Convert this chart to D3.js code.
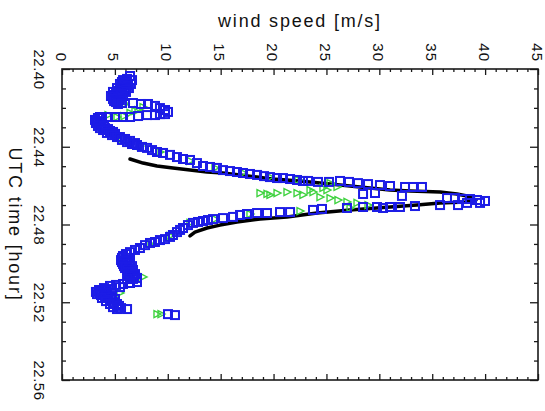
<!DOCTYPE html>
<html>
<head>
<meta charset="utf-8">
<script src="https://cdn.jsdelivr.net/npm/d3@7"></script>
<style>
  html, body { margin: 0; padding: 0; background: #fff; }
  svg { display: block; font-family: "Liberation Sans", Arial, Helvetica, sans-serif; }
</style>
</head>
<body>
<svg id="chart" width="545" height="411"></svg>
<script>
// Axis ticks
const speedTicks = [0, 5, 10, 15, 20, 25, 30, 35, 40, 45];
const timeTicks = [22.40, 22.44, 22.48, 22.52, 22.56];

// Measured wind speed, blue squares: [UTC time (hour), speed (m/s)]
const measured = [
  [22.4036, 6.43], [22.4051, 6.15], [22.4057, 5.77], [22.4057, 6.62], [22.4062, 6.15],
  [22.4067, 5.67], [22.4072, 6.05], [22.4077, 5.48], [22.4077, 6.52], [22.4082, 5.86],
  [22.4087, 6.24], [22.4093, 5.67], [22.4098, 5.20], [22.4098, 6.33], [22.4103, 5.48],
  [22.4108, 5.96], [22.4113, 5.29], [22.4118, 4.82], [22.4118, 6.05], [22.4123, 5.11],
  [22.4128, 5.58], [22.4134, 5.01], [22.4139, 4.63], [22.4139, 5.77], [22.4144, 4.92],
  [22.4149, 5.29], [22.4154, 4.82], [22.4160, 5.48], [22.4165, 4.92], [22.4170, 5.11],
  [22.4180, 5.29],
  [22.4175, 5.67], [22.4175, 6.71], [22.4180, 7.47], [22.4180, 8.13], [22.4190, 8.79],
  [22.4201, 9.26], [22.4211, 9.74], [22.4221, 10.02], [22.4232, 9.74], [22.4232, 9.26],
  [22.4237, 8.79], [22.4237, 8.04], [22.4242, 7.19], [22.4247, 6.43], [22.4247, 5.77],
  [22.4247, 5.01], [22.4247, 4.35], [22.4247, 3.59], [22.4252, 3.78], [22.4252, 3.40],
  [22.4262, 3.12], [22.4268, 3.31], [22.4273, 3.59], [22.4278, 3.21], [22.4288, 3.69],
  [22.4293, 3.40], [22.4293, 3.97], [22.4304, 3.59], [22.4304, 4.07], [22.4309, 4.35],
  [22.4314, 3.88], [22.4319, 4.54], [22.4324, 4.82], [22.4329, 4.25], [22.4334, 5.01],
  [22.4340, 4.73], [22.4350, 5.20], [22.4350, 5.48], [22.4360, 5.96], [22.4365, 5.67],
  [22.4370, 6.43], [22.4376, 6.15], [22.4381, 6.90], [22.4386, 6.62], [22.4391, 7.09],
  [22.4401, 7.56], [22.4406, 8.04], [22.4417, 8.51], [22.4427, 8.98], [22.4432, 9.55],
  [22.4442, 10.21], [22.4453, 10.87], [22.4463, 11.44], [22.4468, 12.10], [22.4484, 12.76],
  [22.4499, 13.33], [22.4504, 13.99], [22.4509, 14.65], [22.4520, 15.22], [22.4525, 15.88],
  [22.4530, 16.54], [22.4535, 17.11], [22.4540, 17.77], [22.4545, 18.44], [22.4551, 19.10],
  [22.4556, 19.66], [22.4561, 20.33], [22.4561, 20.89], [22.4566, 21.56], [22.4571, 22.22],
  [22.4576, 22.78], [22.4576, 23.26], [22.4581, 24.20], [22.4581, 25.24], [22.4576, 26.28],
  [22.4581, 27.13], [22.4587, 27.98], [22.4592, 28.93], [22.4597, 30.06], [22.4602, 31.01],
  [22.4607, 32.43], [22.4607, 33.18], [22.4607, 34.03],
  [22.4643, 28.46], [22.4638, 29.59], [22.4653, 32.14],
  [22.4664, 36.40], [22.4664, 37.15], [22.4669, 37.82], [22.4669, 38.57], [22.4674, 39.23],
  [22.4679, 39.99], [22.4689, 39.52], [22.4689, 38.29], [22.4700, 37.44], [22.4700, 35.74],
  [22.4705, 33.37], [22.4710, 31.95], [22.4710, 31.01], [22.4715, 30.35], [22.4710, 29.78],
  [22.4710, 28.46], [22.4715, 26.94], [22.4720, 24.58], [22.4725, 23.73], [22.4736, 21.56],
  [22.4736, 20.61], [22.4741, 19.38], [22.4741, 18.44], [22.4746, 17.49], [22.4751, 16.83],
  [22.4761, 16.17], [22.4767, 15.22], [22.4772, 14.28], [22.4777, 13.80], [22.4782, 13.33],
  [22.4787, 12.86], [22.4792, 12.38], [22.4803, 11.91], [22.4818, 11.44], [22.4828, 11.16],
  [22.4839, 10.87], [22.4854, 10.49], [22.4864, 10.21], [22.4875, 9.74], [22.4880, 9.26],
  [22.4890, 8.79], [22.4895, 8.32], [22.4906, 7.85], [22.4921, 7.37], [22.4931, 6.90],
  [22.4942, 6.43], [22.4952, 6.05], [22.4962, 5.77], [22.4972, 5.67], [22.4972, 6.24],
  [22.4983, 5.58], [22.4983, 6.05], [22.4993, 5.67], [22.4993, 6.43], [22.5003, 5.77],
  [22.5003, 6.15], [22.5014, 5.86], [22.5014, 6.62], [22.5024, 5.96], [22.5024, 6.33],
  [22.5034, 6.15], [22.5034, 6.71], [22.5044, 6.24], [22.5044, 6.52], [22.5055, 6.33],
  [22.5055, 6.90], [22.5065, 6.43], [22.5065, 6.81], [22.5075, 7.09], [22.5080, 6.71],
  [22.5080, 6.15], [22.5096, 7.09], [22.5101, 6.43], [22.5106, 5.77], [22.5111, 5.11],
  [22.5116, 4.54], [22.5122, 5.48], [22.5127, 3.97], [22.5132, 4.73], [22.5137, 3.50],
  [22.5137, 3.88], [22.5142, 4.16], [22.5147, 3.21], [22.5152, 3.59], [22.5152, 4.25],
  [22.5158, 3.31], [22.5163, 3.69], [22.5168, 4.07], [22.5168, 4.73], [22.5178, 4.35],
  [22.5178, 3.78], [22.5183, 5.01], [22.5188, 4.63], [22.5194, 4.16], [22.5199, 4.92],
  [22.5209, 5.20], [22.5209, 4.54], [22.5219, 5.39], [22.5225, 4.82], [22.5230, 5.58],
  [22.5235, 6.15], [22.5235, 5.20],
  [22.5261, 10.02], [22.5266, 10.68]
];

// Second measurement, green triangles: [UTC time (hour), speed (m/s)]
const secondary = [
  [22.4180, 5.96], [22.4196, 7.66], [22.4211, 7.19], [22.4216, 6.90], [22.4226, 6.43],
  [22.4237, 4.35], [22.4242, 5.86], [22.4247, 5.20],
  [22.4360, 5.67], [22.4396, 7.37], [22.4427, 9.26], [22.4473, 12.10], [22.4509, 14.46],
  [22.4535, 17.11], [22.4556, 19.66], [22.4571, 22.31], [22.4587, 25.34], [22.4607, 26.00],
  [22.4612, 24.67], [22.4623, 25.05], [22.4623, 23.45],
  [22.4638, 18.72], [22.4643, 19.38], [22.4648, 19.66], [22.4638, 20.33], [22.4633, 21.27],
  [22.4638, 22.22], [22.4648, 22.78], [22.4633, 23.73], [22.4659, 24.39], [22.4664, 25.34],
  [22.4674, 26.09], [22.4684, 26.94], [22.4689, 27.89], [22.4700, 28.93],
  [22.4715, 27.23], [22.4731, 22.50], [22.4746, 17.77], [22.4772, 14.46], [22.4792, 12.10],
  [22.4859, 10.21], [22.4900, 8.32], [22.4962, 5.96], [22.5024, 6.24], [22.5070, 7.66],
  [22.5086, 6.43], [22.5152, 5.48], [22.5214, 4.73],
  [22.5261, 8.98], [22.5261, 9.36]
];

// Model wind speed, black line: [UTC time (hour), speed (m/s)]
const model = [
  [22.4463, 6.43], [22.4484, 7.66], [22.4499, 8.98], [22.4509, 10.49], [22.4520, 12.10],
  [22.4530, 13.71], [22.4535, 15.22], [22.4545, 16.83], [22.4556, 18.44], [22.4566, 19.85],
  [22.4571, 21.27], [22.4581, 23.45], [22.4592, 25.34], [22.4602, 27.23], [22.4612, 29.12],
  [22.4623, 31.01], [22.4628, 32.90], [22.4633, 35.74], [22.4643, 37.34], [22.4653, 38.29],
  [22.4669, 38.95], [22.4674, 39.14], [22.4679, 38.76], [22.4684, 38.10], [22.4689, 35.74],
  [22.4700, 33.56], [22.4710, 31.01], [22.4725, 27.23], [22.4741, 24.11], [22.4761, 21.27],
  [22.4772, 18.72], [22.4787, 16.54], [22.4803, 14.94], [22.4818, 13.71], [22.4839, 12.57],
  [22.4859, 12.10]
];

const svg = d3.select("#chart");
const plot = { left: 62, right: 538, top: 69, bottom: 380 };

// Wind speed runs left to right along the top; time runs downward.
const x = d3.scaleLinear().domain([0, 45]).range([plot.left, plot.right]);
const y = d3.scaleLinear().domain([22.40, 22.56]).range([plot.top, plot.bottom]);

const speedMinor = d3.range(0, 46, 1).filter(v => v % 5 !== 0);
const timeMinor = d3.range(22.40, 22.5601, 0.01).map(v => +v.toFixed(2))
  .filter(v => !timeTicks.some(t => Math.abs(t - v) < 1e-6));

const axisColor = "#1a1a1a";
const labelFont = 15;

function styleAxis(g) {
  g.select(".domain").remove();
  g.selectAll(".tick line").attr("stroke", axisColor).attr("stroke-width", 1.3);
}

// Top speed axis with labels rotated to read top-to-bottom
const topMajor = svg.append("g").attr("transform", `translate(0,${plot.top})`)
  .call(d3.axisTop(x).tickValues(speedTicks).tickSizeInner(-6).tickSizeOuter(0).tickFormat(d3.format("d")))
  .call(styleAxis);
topMajor.selectAll(".tick text")
  .attr("x", 0).attr("y", 0).attr("dy", null)
  .attr("text-anchor", "end")
  .attr("transform", "translate(-7,-7) rotate(90)")
  .attr("fill", "#111")
  .style("font-size", labelFont + "px")
  .style("letter-spacing", "1px");
svg.append("g").attr("transform", `translate(0,${plot.top})`)
  .call(d3.axisTop(x).tickValues(speedMinor).tickSizeInner(-3).tickSizeOuter(0).tickFormat(""))
  .call(styleAxis);

// Bottom mirror ticks
svg.append("g").attr("transform", `translate(0,${plot.bottom})`)
  .call(d3.axisBottom(x).tickValues(speedTicks).tickSizeInner(-6).tickSizeOuter(0).tickFormat(""))
  .call(styleAxis);
svg.append("g").attr("transform", `translate(0,${plot.bottom})`)
  .call(d3.axisBottom(x).tickValues(speedMinor).tickSizeInner(-3).tickSizeOuter(0).tickFormat(""))
  .call(styleAxis);

// Left time axis
const leftMajor = svg.append("g").attr("transform", `translate(${plot.left},0)`)
  .call(d3.axisLeft(y).tickValues(timeTicks).tickSizeInner(-8).tickSizeOuter(0).tickFormat(d3.format(".2f")))
  .call(styleAxis);
leftMajor.selectAll(".tick text")
  .attr("x", 0).attr("y", 0).attr("dy", null)
  .attr("text-anchor", "middle")
  .attr("transform", "translate(-28,0) rotate(90)")
  .attr("fill", "#111")
  .style("font-size", labelFont + "px")
  .style("letter-spacing", "0.5px");
svg.append("g").attr("transform", `translate(${plot.left},0)`)
  .call(d3.axisLeft(y).tickValues(timeMinor).tickSizeInner(-4).tickSizeOuter(0).tickFormat(""))
  .call(styleAxis);

// Right mirror ticks
svg.append("g").attr("transform", `translate(${plot.right},0)`)
  .call(d3.axisRight(y).tickValues(timeTicks).tickSizeInner(-8).tickSizeOuter(0).tickFormat(""))
  .call(styleAxis);
svg.append("g").attr("transform", `translate(${plot.right},0)`)
  .call(d3.axisRight(y).tickValues(timeMinor).tickSizeInner(-4).tickSizeOuter(0).tickFormat(""))
  .call(styleAxis);

// Frame
svg.append("rect")
  .attr("x", plot.left).attr("y", plot.top)
  .attr("width", plot.right - plot.left).attr("height", plot.bottom - plot.top)
  .attr("fill", "none").attr("stroke", axisColor).attr("stroke-width", 1.6);

// Axis titles
svg.append("text")
  .attr("x", (plot.left + plot.right) / 2).attr("y", 27)
  .attr("text-anchor", "middle")
  .style("font-size", "18px").style("letter-spacing", "1.8px").attr("fill", "#111")
  .text("wind speed [m/s]");
svg.append("text")
  .attr("text-anchor", "middle")
  .attr("transform", `translate(9,${(plot.top + plot.bottom) / 2}) rotate(90)`)
  .style("font-size", "18px").style("letter-spacing", "1.8px").attr("fill", "#111")
  .text("UTC time [hour]");

// Model line
const line = d3.line().x(d => x(d[1])).y(d => y(d[0])).curve(d3.curveLinear);
svg.append("path")
  .datum(model)
  .attr("d", line)
  .attr("fill", "none")
  .attr("stroke", "#000")
  .attr("stroke-width", 3.5)
  .attr("stroke-linejoin", "round")
  .attr("stroke-linecap", "round");

// Green triangles
svg.append("g").selectAll("path")
  .data(secondary)
  .join("path")
  .attr("transform", d => `translate(${x(d[1])},${y(d[0])})`)
  .attr("d", "M-3,-3.5L4,0L-3,3.5Z")
  .attr("fill", "none")
  .attr("stroke", "#3fd23f")
  .attr("stroke-width", 1.4);

// Blue squares
const sq = 8;
svg.append("g").selectAll("rect")
  .data(measured)
  .join("rect")
  .attr("x", d => x(d[1]) - sq / 2)
  .attr("y", d => y(d[0]) - sq / 2)
  .attr("width", sq).attr("height", sq)
  .attr("fill", "none")
  .attr("stroke", "#1c1ce6")
  .attr("stroke-width", 2);
</script>
</body>
</html>
